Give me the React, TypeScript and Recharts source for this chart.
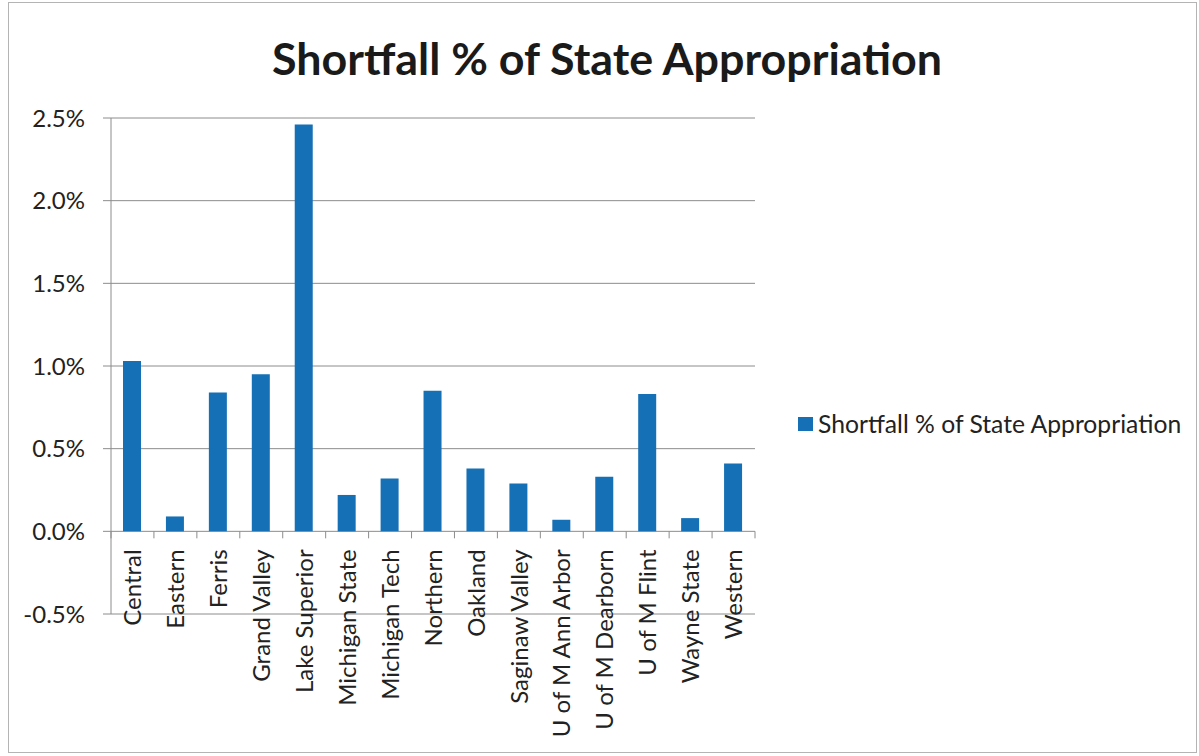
import { BarChart, Bar, XAxis, YAxis, CartesianGrid } from "recharts";

const universities = [
  "Central",
  "Eastern",
  "Ferris",
  "Grand Valley",
  "Lake Superior",
  "Michigan State",
  "Michigan Tech",
  "Northern",
  "Oakland",
  "Saginaw Valley",
  "U of M Ann Arbor",
  "U of M Dearborn",
  "U of M Flint",
  "Wayne State",
  "Western",
];

// percent of state appropriation
const shortfallPct = [
  1.03, 0.09, 0.84, 0.95, 2.46, 0.22, 0.32, 0.85, 0.38, 0.29, 0.07, 0.33, 0.83,
  0.08, 0.41,
];

const yTicks = [-0.5, 0, 0.5, 1.0, 1.5, 2.0, 2.5];

const SERIES_NAME = "Shortfall % of State Appropriation";

const data = universities.map((name, i) => ({ name, value: shortfallPct[i] }));

const W = 1199;
const H = 756;
const MARGIN = { top: 118, right: 444, bottom: 0, left: 0 };
const Y_AXIS_W = 111;
const X_AXIS_H = 142;
const PLOT_W = W - MARGIN.left - MARGIN.right - Y_AXIS_W;
const PLOT_H = H - MARGIN.top - MARGIN.bottom - X_AXIS_H;
const BAND = PLOT_W / universities.length;
// distance from the bottom of the plot (-0.5%) up to the 0% line
const ZERO_OFFSET = PLOT_H * (0.5 / (yTicks[yTicks.length - 1] - yTicks[0]));

const FONT = "Lato, 'Open Sans', sans-serif";
const GRID = "#8c8c8c";
const BAR = "#1570b5";

function CategoryTick(props: any) {
  const { x, y, payload, index } = props;
  const zeroY = y - ZERO_OFFSET;
  const labelY = zeroY + 18;
  const left = x - BAND / 2;
  return (
    <g>
      <line x1={left} x2={left} y1={zeroY} y2={zeroY + 7} stroke={GRID} />
      {index === universities.length - 1 && (
        <line
          x1={x + BAND / 2}
          x2={x + BAND / 2}
          y1={zeroY}
          y2={zeroY + 7}
          stroke={GRID}
        />
      )}
      <text
        x={x}
        y={labelY}
        dy="0.36em"
        textAnchor="end"
        transform={`rotate(-90, ${x}, ${labelY})`}
        fontFamily={FONT}
        fontSize={24}
        fill="#222"
      >
        {payload.value}
      </text>
    </g>
  );
}

export default function App() {
  return (
    <div
      style={{
        position: "absolute",
        left: 0,
        top: 0,
        width: W,
        height: H,
        background: "#fff",
        fontFamily: FONT,
      }}
    >
      <div
        style={{
          position: "absolute",
          left: 8,
          top: 2,
          width: W - 10,
          height: H - 5,
          border: "1px solid #b4b4b4",
          boxSizing: "border-box",
        }}
      />
      <div
        style={{
          position: "absolute",
          left: 0,
          top: 36,
          width: 1214,
          textAlign: "center",
          fontSize: 44.8,
          lineHeight: "44px",
          fontWeight: 700,
          color: "#1a1a1a",
        }}
      >
        {SERIES_NAME}
      </div>
      <div
        style={{
          position: "absolute",
          left: 798,
          top: 409,
          display: "flex",
          alignItems: "center",
          fontSize: 24.7,
          lineHeight: "30px",
          color: "#222",
          whiteSpace: "nowrap",
        }}
      >
        <span
          style={{
            display: "inline-block",
            width: 15,
            height: 14,
            background: BAR,
            marginRight: 5,
          }}
        />
        {SERIES_NAME}
      </div>
      <BarChart
        width={W}
        height={H}
        data={data}
        margin={MARGIN}
        barSize={18}
        style={{ position: "absolute", left: 0, top: 0 }}
      >
        <CartesianGrid horizontal vertical={false} stroke={GRID} />
        <XAxis
          dataKey="name"
          height={X_AXIS_H}
          axisLine={false}
          tickLine={false}
          tickSize={0}
          tickMargin={0}
          interval={0}
          tick={<CategoryTick />}
        />
        <YAxis
          width={Y_AXIS_W}
          domain={[yTicks[0], yTicks[yTicks.length - 1]]}
          ticks={yTicks}
          interval={0}
          allowDataOverflow
          stroke={GRID}
          tickSize={8}
          tickMargin={18}
          tickFormatter={(v: number) => `${v.toFixed(1)}%`}
          tick={{ fontFamily: FONT, fontSize: 24, fill: "#222" }}
        />
        <Bar
          dataKey="value"
          name={SERIES_NAME}
          fill={BAR}
          isAnimationActive={false}
        />
      </BarChart>
    </div>
  );
}
